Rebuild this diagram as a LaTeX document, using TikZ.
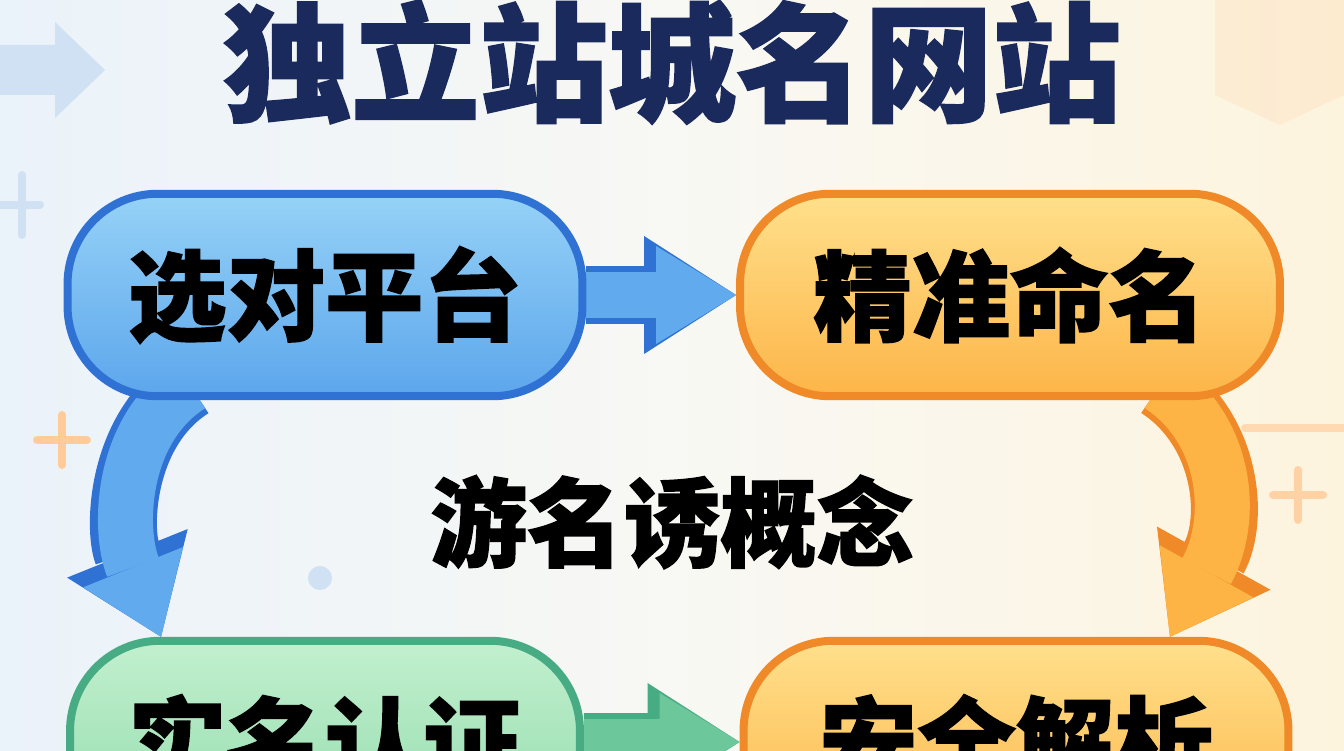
\documentclass[tikz,border=0pt]{standalone}
\usepackage{fontspec}
\newfontfamily\cjk{Noto Sans CJK SC}[BoldFeatures={FakeBold=1.5}]
\usetikzlibrary{arrows.meta,calc}
\pgfdeclarelayer{back}
\pgfdeclarelayer{links}
\pgfsetlayers{back,links,main}
\definecolor{navy}{HTML}{1B2A5C}
\definecolor{bluetop}{HTML}{96D2F7}
\definecolor{bluebot}{HTML}{5CA6EC}
\definecolor{blueline}{HTML}{2F72D4}
\definecolor{blueshaft}{HTML}{62AAEE}
\definecolor{orangetop}{HTML}{FFE08C}
\definecolor{orangebot}{HTML}{FDB548}
\definecolor{orangeline}{HTML}{F08A28}
\definecolor{orangeshaft}{HTML}{FDB444}
\definecolor{greentop}{HTML}{C2F0CE}
\definecolor{greenbot}{HTML}{90DAAC}
\definecolor{greenline}{HTML}{47AB84}
\definecolor{greenshaft}{HTML}{6CC79A}
\definecolor{bgleft}{HTML}{EAF2FA}
\definecolor{bgmid}{HTML}{F8F8F4}
\definecolor{bgright}{HTML}{FDF4DE}
\definecolor{faintblue}{HTML}{CFE1F3}

\begin{document}
\begin{tikzpicture}[x=0.02cm, y=-0.02cm,
stage/.style = {shape=rectangle, rounded corners=1.8cm, line width=0.16cm,
	minimum height=4.05cm, text=black, inner sep=0pt,
	font=\cjk\bfseries\fontsize{56}{62}\selectfont},
bluestage/.style = {stage, draw=blueline, top color=bluetop, bottom color=bluebot},
orangestage/.style = {stage, draw=orangeline, top color=orangetop, bottom color=orangebot},
greenstage/.style = {stage, draw=greenline, top color=greentop, bottom color=greenbot},
flow/.style 2 args = {draw=#2, line width=0.92cm,
	-{Triangle[length=1.6cm, width=1.96cm, line width=0pt]},
	preaction={draw=#1, line width=1.16cm,
		-{Triangle[length=1.84cm, width=2.36cm, line width=0pt]}}},
bendflow/.style 2 args = {draw=#2, line width=1.1cm,
	-{Triangle[length=1.5cm, width=2.15cm, line width=0pt]},
	preaction={draw=#1, line width=1.34cm,
		-{Triangle[length=1.8cm, width=2.6cm, line width=0pt]}}},
spark/.style = {line width=0.16cm, line cap=round, draw=#1}]

\useasboundingbox (0,0) rectangle (1344,750);
\clip (0,0) rectangle (1344,750);

\begin{pgfonlayer}{back}
% background and faint ornaments
\shade[left color=bgleft, right color=bgright, middle color=bgmid] (0,0) rectangle (1344,750);
\fill[faintblue] (0,45) -- (55,45) -- (55,22) -- (105,70) -- (55,118) -- (55,95) -- (0,95) -- cycle;
\fill[orange!30, opacity=0.3] (1215,0) -- (1344,0) -- (1344,95) -- (1280,125) -- (1215,95) -- cycle;
\draw[spark=orange!40] (62,415) -- (62,465) (37,440) -- (87,440);
\draw[spark=orange!35] (1298,470) -- (1298,520) (1273,495) -- (1323,495);
\draw[spark=orange!30] (1245,428) -- (1344,428);
\fill[faintblue] (320,578) circle (12);
\draw[spark=faintblue] (22,175) -- (22,235) (0,205) -- (40,205);
\end{pgfonlayer}

\node[text=navy, inner sep=0pt, font=\cjk\bfseries\fontsize{73}{80}\selectfont]
	(title) at (672,62) {独立站城名网站};

\node[bluestage, minimum width=10.3cm] (sel) at (325,295) {选对平台};
\node[orangestage, minimum width=10.8cm] (name) at (1010,295) {精准命名};
\node[greenstage, minimum width=10.2cm] (cert) at (325,742) {实名认证};
\node[orangestage, minimum width=10.9cm] (dns) at (1016,742) {安全解析};

\node[inner sep=0pt, font=\cjk\bfseries\fontsize{55}{60}\selectfont]
	(core) at (672,522) {游名诱概念};

\begin{pgfonlayer}{links}
\draw[flow={blueline}{blueshaft}] (sel.east) -- (name.west);
\draw[flow={greenline}{greenshaft}] (cert.east) -- (dns.west);
\draw[bendflow={blueline}{blueshaft}] ([xshift=-2.7cm, yshift=0.3cm]sel.south)
	.. controls (120,430) and (118,530) .. ([xshift=1.9cm]cert.north west);
\draw[bendflow={orangeline}{orangeshaft}] ([xshift=3cm, yshift=0.3cm]name.south)
	.. controls (1228,430) and (1235,520) .. ([xshift=-2.45cm]dns.north east);
\end{pgfonlayer}
\end{tikzpicture}
\end{document}
